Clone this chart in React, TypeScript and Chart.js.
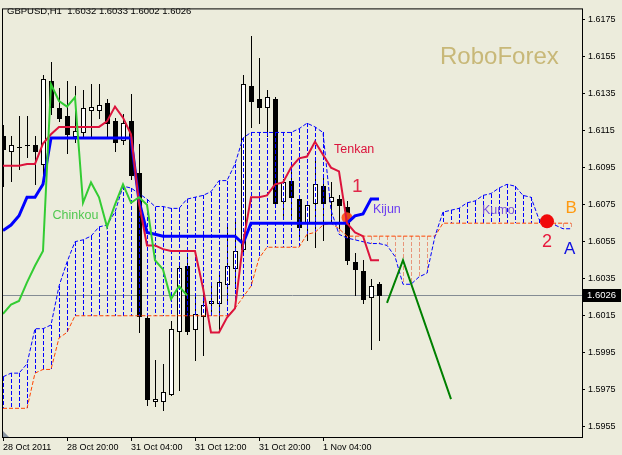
import React, { useEffect, useRef } from "react";
import { Chart, registerables } from "chart.js";

Chart.register(...registerables);

// ---------------- data ----------------
const xTickBars = [0, 8, 16, 24, 32, 40];
const xTickLabels = ["28 Oct 2011", "28 Oct 20:00", "31 Oct 04:00", "31 Oct 12:00", "31 Oct 20:00", "1 Nov 04:00"];
const yTickValues = [1.5955, 1.5975, 1.5995, 1.6015, 1.6035, 1.6055, 1.6075, 1.6095, 1.6115, 1.6135, 1.6155, 1.6175];

const opens = [
  1.6112, 1.6104, 1.6106, 1.6107, 1.6107, 1.6097, 1.6142, 1.6127, 1.6123, 1.6112,
  1.6114, 1.6126, 1.6126, 1.6130, 1.6120, 1.6110, 1.6120, 1.6092, 1.6014, 1.5969,
  1.5969, 1.5973, 1.6007, 1.6042, 1.6008, 1.6015, 1.6022, 1.6022, 1.6032, 1.6041,
  1.6051, 1.6139, 1.6132, 1.6128, 1.6132, 1.6077, 1.6088, 1.6078, 1.6065, 1.6076,
  1.6085, 1.6077, 1.6078, 1.6074, 1.6044, 1.6039, 1.6025, 1.6032,
];
const highs = [
  1.6118, 1.6112, 1.6123, 1.6123, 1.6112, 1.6145, 1.6152, 1.6138, 1.6142, 1.6139,
  1.6137, 1.6140, 1.6140, 1.6132, 1.6122, 1.6124, 1.6135, 1.6108, 1.6015, 1.5991,
  1.5989, 1.6012, 1.6043, 1.6047, 1.6025, 1.6028, 1.6032, 1.6039, 1.6065, 1.6066,
  1.6145, 1.6166, 1.6154, 1.6137, 1.6133, 1.6089, 1.6096, 1.6080, 1.6076, 1.6100,
  1.6091, 1.6087, 1.6080, 1.6077, 1.6049, 1.6045, 1.6035, 1.6033,
];
const lows = [
  1.6085, 1.6088, 1.6094, 1.6101, 1.6086, 1.6089, 1.6124, 1.6120, 1.6103, 1.6109,
  1.6111, 1.6111, 1.6122, 1.6112, 1.6104, 1.6108, 1.6089, 1.6006, 1.5967, 1.5966,
  1.5964, 1.5972, 1.5975, 1.6005, 1.5991, 1.5994, 1.6017, 1.6007, 1.6022, 1.6030,
  1.6049, 1.6117, 1.6119, 1.6112, 1.6076, 1.6067, 1.6068, 1.6056, 1.6056, 1.6052,
  1.6056, 1.6065, 1.6060, 1.6043, 1.6026, 1.6022, 1.5997, 1.6002,
];
const closes = [
  1.6105, 1.6107, 1.6106, 1.6107, 1.6104, 1.6143, 1.6128, 1.6122, 1.6113, 1.6115,
  1.6127, 1.6128, 1.6129, 1.6119, 1.6109, 1.6119, 1.6091, 1.6015, 1.5970, 1.5970,
  1.5974, 1.6008, 1.6041, 1.6007, 1.6016, 1.6021, 1.6023, 1.6033, 1.6042, 1.6050,
  1.6140, 1.6131, 1.6128, 1.6133, 1.6076, 1.6087, 1.6079, 1.6063, 1.6075, 1.6086,
  1.6076, 1.6079, 1.6075, 1.6045, 1.6040, 1.6024, 1.6031, 1.6026,
];

const tenkan = [
  1.6096, 1.6096, 1.6096, 1.6097, 1.6097, 1.6108, 1.6113, 1.6117, 1.6117, 1.6117,
  1.6117, 1.6117, 1.6117, 1.6120, 1.6128, 1.6122, 1.6113, 1.6076, 1.6053, 1.6053,
  1.6051, 1.6050, 1.6050, 1.6050, 1.6050, 1.6030, 1.6006, 1.6006, 1.6014, 1.6019,
  1.6054, 1.6079, 1.6079, 1.6080, 1.6086, 1.6087, 1.6095, 1.6100, 1.6101, 1.6109,
  1.6102, 1.6095, 1.6093, 1.6065, 1.6060, 1.6058, 1.6045, 1.6045,
];
const kijun = [
  1.6061, 1.6064, 1.6069, 1.6079, 1.6079, 1.6086, 1.6111, 1.6111, 1.6111, 1.6111,
  1.6111, 1.6111, 1.6111, 1.6111, 1.6111, 1.6111, 1.6111, 1.6077, 1.6060, 1.6059,
  1.6058, 1.6058, 1.6058, 1.6058, 1.6058, 1.6058, 1.6058, 1.6058, 1.6058, 1.6058,
  1.6054, 1.6065, 1.6065, 1.6065, 1.6065, 1.6065, 1.6065, 1.6065, 1.6065, 1.6065,
  1.6065, 1.6065, 1.6065, 1.6065, 1.6069, 1.6070, 1.6078, 1.6078,
];
const chinkou = [
  1.6016, 1.6021, 1.6023, 1.6033, 1.6042, 1.6050, 1.6140, 1.6131, 1.6128, 1.6133,
  1.6076, 1.6087, 1.6079, 1.6063, 1.6075, 1.6086, 1.6076, 1.6079, 1.6075, 1.6045,
  1.6040, 1.6024, 1.6031, 1.6026,
];
const spanA = [
  1.5982, 1.5984, 1.5984, 1.5989, 1.6008, 1.6008, 1.6010, 1.6031, 1.6044, 1.6055,
  1.6056, 1.6058, 1.6063, 1.6064, 1.6071, 1.6085, 1.6084, 1.6081, 1.6078, 1.6074,
  1.6074, 1.6073, 1.6073, 1.6078, 1.6079, 1.6080, 1.6082, 1.6088, 1.6088, 1.6097,
  1.6111, 1.6114, 1.6114, 1.6114, 1.6114, 1.6114, 1.6114, 1.6116, 1.6119, 1.6117,
  1.6114, 1.6072, 1.6059, 1.6057, 1.6056, 1.6055, 1.6054, 1.6054, 1.6053, 1.6047,
  1.6032, 1.6032, 1.6036, 1.6038, 1.6058, 1.6071, 1.6072, 1.6073, 1.6076, 1.6077,
  1.6080, 1.6081, 1.6084, 1.6086, 1.6085, 1.6080, 1.6079, 1.6067, 1.6065, 1.6064,
  1.6062, 1.6062,
];
const spanB = [
  1.5965, 1.5965, 1.5965, 1.5965, 1.5984, 1.5986, 1.5986, 1.6003, 1.6006, 1.6015,
  1.6015, 1.6015, 1.6015, 1.6015, 1.6015, 1.6015, 1.6015, 1.6015, 1.6015, 1.6015,
  1.6015, 1.6015, 1.6015, 1.6015, 1.6015, 1.6015, 1.6015, 1.6015, 1.6015, 1.6019,
  1.6025, 1.6031, 1.6046, 1.6052, 1.6052, 1.6052, 1.6052, 1.6052, 1.6059, 1.6060,
  1.6064, 1.6065, 1.6062, 1.6058, 1.6058, 1.6058, 1.6058, 1.6058, 1.6058, 1.6058,
  1.6058, 1.6058, 1.6058, 1.6058, 1.6058, 1.6065, 1.6065, 1.6065, 1.6065, 1.6065,
  1.6065, 1.6065, 1.6065, 1.6065, 1.6065, 1.6065, 1.6065, 1.6065, 1.6065, 1.6065,
  1.6065, 1.6065,
];
const forecastBars = [48, 50, 56];
const forecastPrices = [1.6022, 1.6045, 1.5970];
const lastPrice = 1.6026;
const headerText = "GBPUSD,H1  1.6032 1.6033 1.6002 1.6026";

// annotation marks (bar index, price)
const circleBars = [43, 68];
const circlePrices = [1.6068, 1.6066];
const labelTexts = ["RoboForex", "Tenkan", "1", "Kijun", "Chinkou", "Kumo", "B", "2", "A"];
const labelBars = [54.625, 41.375, 43.625, 46.25, 6.19, 59.875, 70.31, 67.375, 70.125];
const labelPrices = [1.61548, 1.61046, 1.60844, 1.60722, 1.60692, 1.6072, 1.6073, 1.6055, 1.6051];

// ---------------- styles ----------------
const BG = "#ececdc";
const FONT = "'Liberation Sans', Arial, sans-serif";
const labelStyles = [
  { size: 24, color: "#c8b878" },
  { size: 12.5, color: "#dc143c" },
  { size: 19, color: "#e0284a" },
  { size: 12.5, color: "#6a3cf0" },
  { size: 12.5, color: "#50c850" },
  { size: 12.5, color: "#7850dc" },
  { size: 17, color: "#ff9a10" },
  { size: 18, color: "#e8183c" },
  { size: 17, color: "#1010e0" },
];

const Y_MIN = 1.594951;
const Y_MAX = 1.618101;
const X_MIN = 0;
const X_MAX = 72.375;

const pts = (arr: number[], start = 0) => arr.map((v, i) => ({ x: start + i, y: v }));

const mt4Plugin = {
  id: "mt4",
  beforeDraw(chart: any) {
    const ctx = chart.ctx;
    ctx.save();
    ctx.fillStyle = BG;
    ctx.fillRect(0, 0, chart.width, chart.height);
    ctx.restore();
  },
  beforeDatasetsDraw(chart: any) {
    const { ctx, chartArea: a } = chart;
    const xs = chart.scales.x;
    const ys = chart.scales.y;
    ctx.save();
    ctx.beginPath();
    ctx.rect(a.left, a.top, a.right - a.left, a.bottom - a.top);
    ctx.clip();

    // bid line
    const py = Math.round(ys.getPixelForValue(lastPrice)) + 0.5;
    ctx.strokeStyle = "#848c94";
    ctx.lineWidth = 1;
    ctx.beginPath();
    ctx.moveTo(a.left, py);
    ctx.lineTo(a.right, py);
    ctx.stroke();

    // candles
    for (let i = 0; i < opens.length; i++) {
      const xc = Math.round(xs.getPixelForValue(i));
      const o = opens[i], c = closes[i], h = highs[i], l = lows[i];
      const yh = Math.round(ys.getPixelForValue(h));
      const yl = Math.round(ys.getPixelForValue(l));
      ctx.fillStyle = "#000";
      ctx.fillRect(xc, yh, 1, Math.max(1, yl - yh + 1));
      const top = Math.round(ys.getPixelForValue(Math.max(o, c)));
      const bot = Math.round(ys.getPixelForValue(Math.min(o, c)));
      if (c > o) {
        ctx.fillStyle = "#fff";
        ctx.fillRect(xc - 2, top, 5, bot - top + 1);
        ctx.strokeStyle = "#000";
        ctx.lineWidth = 1;
        ctx.strokeRect(xc - 2 + 0.5, top + 0.5, 4, Math.max(0, bot - top));
      } else {
        ctx.fillStyle = "#000";
        ctx.fillRect(xc - 2, top, 5, Math.max(1, bot - top + 1));
      }
    }

    // kumo hatch (manual crisp dashes)
    for (let i = 0; i < spanA.length; i++) {
      const xc = Math.round(xs.getPixelForValue(i));
      const ya = Math.round(ys.getPixelForValue(spanA[i]));
      const yb = Math.round(ys.getPixelForValue(spanB[i]));
      const t = Math.min(ya, yb);
      const b = Math.max(ya, yb);
      if (b - t < 1) continue;
      ctx.fillStyle = spanA[i] >= spanB[i] ? "#0000ff" : "#e8957a";
      for (let yy = t; yy < b; yy += 6) {
        ctx.fillRect(xc, yy, 1, Math.min(4, b - yy));
      }
    }

    // first crossing mark
    ctx.fillStyle = "rgba(255,80,20,0.9)";
    ctx.beginPath();
    ctx.arc(xs.getPixelForValue(circleBars[0]), ys.getPixelForValue(circlePrices[0]), 5.5, 0, Math.PI * 2);
    ctx.fill();
    ctx.restore();
  },
  afterDatasetsDraw(chart: any) {
    const { ctx, chartArea: a } = chart;
    const xs = chart.scales.x;
    const ys = chart.scales.y;
    ctx.save();

    // second crossing mark
    ctx.save();
    ctx.beginPath();
    ctx.rect(a.left, a.top, a.right - a.left, a.bottom - a.top);
    ctx.clip();
    ctx.fillStyle = "#f00a0a";
    ctx.beginPath();
    ctx.arc(xs.getPixelForValue(circleBars[1]), ys.getPixelForValue(circlePrices[1]), 7, 0, Math.PI * 2);
    ctx.fill();

    // labels
    ctx.textAlign = "left";
    ctx.textBaseline = "middle";
    for (let k = 0; k < labelTexts.length; k++) {
      ctx.font = `${labelStyles[k].size}px ${FONT}`;
      ctx.fillStyle = labelStyles[k].color;
      ctx.fillText(labelTexts[k], xs.getPixelForValue(labelBars[k]), ys.getPixelForValue(labelPrices[k]));
    }

    // header
    ctx.font = `9.5px ${FONT}`;
    ctx.fillStyle = "#000";
    ctx.fillText(headerText, 7, 11);

    // chart shift marker triangle
    ctx.fillStyle = "#8a96a2";
    ctx.beginPath();
    ctx.moveTo(380, 3);
    ctx.lineTo(389, 3);
    ctx.lineTo(384.5, 8);
    ctx.closePath();
    ctx.fill();
    ctx.beginPath();
    ctx.moveTo(a.left, a.bottom - 6);
    ctx.lineTo(a.left, a.bottom);
    ctx.lineTo(a.left + 6, a.bottom);
    ctx.closePath();
    ctx.fill();
    ctx.restore();

    // frame
    ctx.strokeStyle = "#000";
    ctx.lineWidth = 1;
    ctx.strokeRect(a.left - 0.5, a.top + 0.5, a.right - a.left + 1, a.bottom - a.top);

    // last price label
    const py = Math.round(ys.getPixelForValue(lastPrice));
    ctx.fillStyle = "#000";
    ctx.fillRect(a.right + 1, py - 6, 38, 13);
    ctx.fillStyle = "#fff";
    ctx.font = `9.5px ${FONT}`;
    ctx.textBaseline = "middle";
    ctx.fillText(lastPrice.toFixed(4), a.right + 5, py + 0.5);
    ctx.restore();
  },
};

export default function App() {
  const ref = useRef<HTMLCanvasElement | null>(null);
  useEffect(() => {
    const canvas = ref.current;
    if (!canvas) return;
    const lineBase = { pointRadius: 0, tension: 0, fill: false, clip: 0 };
    const chart = new Chart(canvas, {
      type: "line",
      data: {
        datasets: [
          {
            ...lineBase,
            label: "Forecast",
            data: forecastBars.map((b, i) => ({ x: b, y: forecastPrices[i] })),
            borderColor: "#008000",
            borderWidth: 2,
          },
          { ...lineBase, label: "Chinkou", data: pts(chinkou), borderColor: "#33cc33", borderWidth: 2 },
          { ...lineBase, label: "Tenkan", data: pts(tenkan), borderColor: "#dc143c", borderWidth: 2 },
          { ...lineBase, label: "Kijun", data: pts(kijun), borderColor: "#0000ff", borderWidth: 3 },
          { ...lineBase, label: "Span A", data: pts(spanA), borderColor: "#0000ff", borderWidth: 1, borderDash: [4, 2] },
          { ...lineBase, label: "Span B", data: pts(spanB), borderColor: "#ff4500", borderWidth: 1, borderDash: [4, 2] },
        ] as any,
      },
      options: {
        animation: false,
        responsive: false,
        maintainAspectRatio: false,
        devicePixelRatio: 1,
        events: [],
        layout: { padding: { left: 3, top: 2, right: 0, bottom: 0 } },
        plugins: { legend: { display: false }, tooltip: { enabled: false }, title: { display: false } },
        scales: {
          x: {
            type: "linear",
            position: "bottom",
            min: X_MIN,
            max: X_MAX,
            bounds: "data",
            afterFit: (s: any) => {
              s.height = 18;
            },
            afterBuildTicks: (s: any) => {
              s.ticks = xTickBars.map((v) => ({ value: v }));
            },
            ticks: {
              autoSkip: false,
              maxRotation: 0,
              minRotation: 0,
              align: "start",
              padding: 1,
              labelOffset: 0,
              color: "#000",
              font: { family: FONT, size: 9 },
              callback: (_v: any, idx: number) => xTickLabels[idx],
            },
            grid: { drawOnChartArea: false, drawTicks: true, tickLength: 4, color: "#000" },
            border: { display: false },
          },
          y: {
            type: "linear",
            position: "right",
            min: Y_MIN,
            max: Y_MAX,
            bounds: "data",
            afterFit: (s: any) => {
              s.width = 40;
            },
            afterBuildTicks: (s: any) => {
              s.ticks = yTickValues.map((v) => ({ value: v }));
            },
            ticks: {
              padding: 3,
              color: "#000",
              font: { family: FONT, size: 9 },
              callback: (v: any) => Number(v).toFixed(4),
            },
            grid: { drawOnChartArea: false, drawTicks: true, tickLength: 3, color: "#000" },
            border: { display: false },
          },
        },
      } as any,
      plugins: [mt4Plugin],
    });
    return () => chart.destroy();
  }, []);
  return (
    <div style={{ position: "absolute", left: 0, top: 0, width: 622, height: 455, background: BG }}>
      <canvas ref={ref} width={622} height={455} style={{ display: "block", width: 622, height: 455 }} />
    </div>
  );
}
